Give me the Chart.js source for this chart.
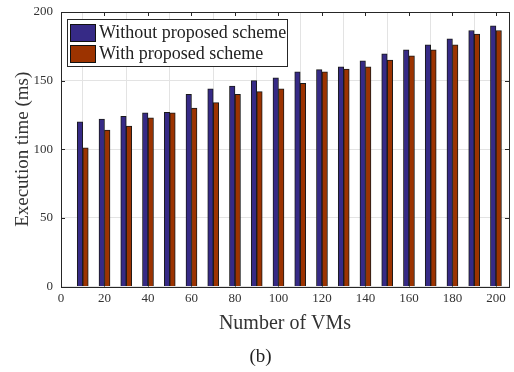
<!DOCTYPE html>
<html>
<head>
<meta charset="utf-8">
<script src="https://cdn.jsdelivr.net/npm/chart.js@4"></script>
<style>
  html, body { margin: 0; padding: 0; background: #fff; }
  #wrap { width: 514px; height: 372px; }
</style>
</head>
<body>
<div id="wrap"><canvas id="execChart"></canvas></div>
<script>
// number of VMs
const vms = [10, 20, 30, 40, 50, 60, 70, 80, 90, 100, 110, 120, 130, 140, 150, 160, 170, 180, 190, 200];
// execution time (ms)
const withoutScheme = [120, 122, 124, 126.5, 127, 140, 144, 146, 150, 152, 156.5, 158, 160, 164.5, 169.5, 172.5, 176, 180.5, 186.5, 190];
const withScheme = [101, 114, 117, 123, 126.5, 130, 134, 140, 142, 144, 148, 156.5, 158.5, 160, 165, 168, 172.5, 176, 184, 186.5];
const xTicks = [0, 20, 40, 60, 80, 100, 120, 140, 160, 180, 200];
const yTicks = [0, 50, 100, 150, 200];

const serif = "'Liberation Serif', 'DejaVu Serif', serif";

// box around the axes + inward ticks, like matlab
const boxPlugin = {
    id: 'box',
    afterDatasetsDraw(chart) {
        const ctx = chart.ctx;
        const a = chart.chartArea;
        const xs = chart.scales.x, ys = chart.scales.y;
        ctx.save();
        ctx.strokeStyle = '#262626';
        ctx.lineWidth = 1;
        ctx.beginPath();
        xTicks.forEach(v => {
            const px = Math.round(xs.getPixelForValue(v)) + 0.5;
            ctx.moveTo(px, a.bottom); ctx.lineTo(px, a.bottom - 4);
            ctx.moveTo(px, a.top); ctx.lineTo(px, a.top + 4);
        });
        yTicks.forEach(v => {
            const py = Math.round(ys.getPixelForValue(v)) + 0.5;
            ctx.moveTo(a.left, py); ctx.lineTo(a.left + 4, py);
            ctx.moveTo(a.right, py); ctx.lineTo(a.right - 4, py);
        });
        ctx.stroke();
        ctx.strokeRect(Math.round(a.left) + 0.5, Math.round(a.top) + 0.5,
            Math.round(a.right - a.left), Math.round(a.bottom - a.top));
        ctx.restore();
    }
};

// legend in the upper left corner, inside the axes
const legendBox = {
    id: 'legendBox',
    afterDraw(chart) {
        const ctx = chart.ctx;
        const a = chart.chartArea;
        const x0 = Math.round(a.left) + 6, y0 = Math.round(a.top) + 7;
        const w = 220, h = 47;
        ctx.save();
        ctx.fillStyle = '#fff';
        ctx.fillRect(x0, y0, w, h);
        ctx.strokeStyle = '#262626';
        ctx.lineWidth = 1;
        ctx.strokeRect(x0 + 0.5, y0 + 0.5, w, h);
        ctx.font = '18px ' + serif;
        ctx.textBaseline = 'middle';
        chart.data.datasets.forEach((ds, i) => {
            const cy = y0 + 13 + i * 21;
            ctx.fillStyle = ds.backgroundColor;
            ctx.fillRect(x0 + 3, cy - 8, 25, 17);
            ctx.strokeStyle = '#111';
            ctx.strokeRect(x0 + 3.5, cy - 7.5, 25, 17);
            ctx.fillStyle = '#222';
            ctx.fillText(ds.label, x0 + 32, cy + 1);
        });
        ctx.restore();
    }
};

const data = {
    datasets: [{
        label: 'Without proposed scheme',
        data: vms.map((v, i) => ({ x: v, y: withoutScheme[i] })),
        backgroundColor: '#362a86',
        borderColor: '#1a1a1a',
        borderWidth: 1,
        borderSkipped: 'bottom',
        barThickness: 5.5
    },
    {
        label: 'With proposed scheme',
        data: vms.map((v, i) => ({ x: v, y: withScheme[i] })),
        backgroundColor: '#9c3300',
        borderColor: '#1a1a1a',
        borderWidth: 1,
        borderSkipped: 'bottom',
        barThickness: 5.5
    }]
};

const config = {
    type: 'bar',
    data: data,
    options: {
        responsive: true,
        maintainAspectRatio: false,
        animation: false,
        layout: { padding: { top: 12, right: 5, left: 12, bottom: 2 } },
        scales: {
            x: {
                type: 'linear',
                min: 0,
                max: 206,
                offset: false,
                afterBuildTicks: s => { s.ticks = xTicks.map(v => ({ value: v })); },
                grid: { color: '#e3e3e3', drawTicks: false },
                border: { display: false },
                ticks: { color: '#333', font: { family: serif, size: 13 }, padding: 4, maxRotation: 0 },
                title: { display: true, text: 'Number of VMs', color: '#333', font: { family: serif, size: 20 }, padding: { top: 2, bottom: 0 } }
            },
            y: {
                min: 0,
                max: 200,
                afterBuildTicks: s => { s.ticks = yTicks.map(v => ({ value: v })); },
                afterFit: s => { s.width = 49; s.paddingTop = 0; s.paddingBottom = 0; },
                grid: { color: '#e3e3e3', drawTicks: false },
                border: { display: false },
                ticks: { color: '#333', font: { family: serif, size: 13 }, padding: 8 },
                title: { display: true, text: 'Execution time (ms)', color: '#333', font: { family: serif, size: 19 }, padding: { top: 0, bottom: 2 } }
            }
        },
        plugins: {
            legend: { display: false },
            tooltip: { enabled: false },
            title: {
                display: true,
                text: '(b)',
                position: 'bottom',
                color: '#222',
                font: { family: serif, size: 19, weight: 'normal' },
                padding: { top: 9, bottom: 2 }
            }
        }
    },
    plugins: [boxPlugin, legendBox]
};

const execChart = new Chart(document.getElementById('execChart'), config);
</script>
</body>
</html>
